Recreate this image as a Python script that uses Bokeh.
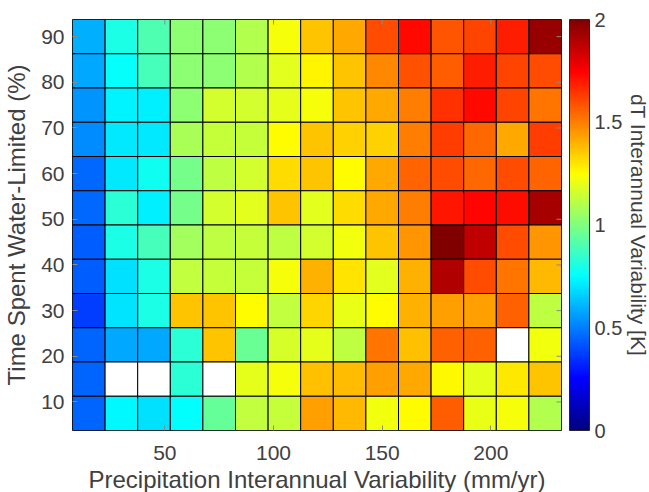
import math
import numpy as np
from bokeh.plotting import figure
from bokeh.models import (LinearColorMapper, ColorBar, FixedTicker, Range1d,
                          ColumnDataSource, Title, CustomJSTickFormatter)
from bokeh.embed import file_html
from bokeh.resources import INLINE

# ---------------- data ----------------
x_centers = [15, 30, 45, 60, 75, 90, 105, 120, 135, 150, 165, 180, 195, 210, 225]
y_centers = [90, 82.5, 75, 67.5, 60, 52.5, 45, 37.5, 30, 22.5, 15, 7.5]  # top -> bottom
nan = float("nan")
dT = [
    [0.60, 0.80, 0.90, 1.03, 1.03, 1.10, 1.23, 1.36, 1.42, 1.60, 1.73, 1.58, 1.61, 1.69, 1.95],
    [0.58, 0.76, 0.89, 1.03, 1.03, 1.10, 1.19, 1.27, 1.36, 1.48, 1.59, 1.57, 1.69, 1.61, 1.60],
    [0.54, 0.73, 0.72, 1.03, 1.16, 1.16, 1.20, 1.23, 1.36, 1.42, 1.50, 1.65, 1.73, 1.61, 1.52],
    [0.53, 0.71, 0.71, 1.08, 1.14, 1.14, 1.25, 1.36, 1.34, 1.34, 1.50, 1.63, 1.54, 1.42, 1.63],
    [0.46, 0.71, 0.78, 0.98, 1.12, 1.16, 1.32, 1.36, 1.25, 1.42, 1.55, 1.60, 1.54, 1.60, 1.55],
    [0.46, 0.83, 0.72, 0.98, 1.16, 1.19, 1.36, 1.19, 1.32, 1.42, 1.50, 1.71, 1.74, 1.72, 1.92],
    [0.43, 0.80, 0.89, 1.07, 1.12, 1.14, 1.12, 1.16, 1.22, 1.36, 1.46, 2.00, 1.87, 1.60, 1.46],
    [0.43, 0.69, 0.80, 1.13, 1.14, 1.14, 1.23, 1.40, 1.30, 1.19, 1.40, 1.90, 1.60, 1.52, 1.39],
    [0.37, 0.70, 0.80, 1.36, 1.36, 1.25, 1.13, 1.33, 1.21, 1.25, 1.40, 1.43, 1.43, 1.56, 1.12],
    [0.45, 0.58, 0.58, 0.83, 1.36, 0.96, 1.17, 1.20, 1.12, 1.52, 1.37, 1.56, 1.56, nan, 1.22],
    [0.45, nan, nan, 0.83, nan, 1.20, 1.23, 1.37, 1.38, 1.43, 1.42, 1.26, 1.20, 1.29, 1.36],
    [0.45, 0.74, 0.69, 0.75, 0.95, 1.13, 1.14, 1.43, 1.39, 1.22, 1.25, 1.57, 1.21, 1.23, 1.10],
]
x_ticks = [50, 100, 150, 200]
y_ticks = [10, 20, 30, 40, 50, 60, 70, 80, 90]
cbar_ticks = [0, 0.5, 1, 1.5, 2]
x_step = 15
y_step = 7.5

# ---------------- jet colormap ----------------
def jet_palette(n=256):
    cols = []
    for i in range(n):
        t = i / (n - 1)
        r = min(max(1.5 - abs(4 * t - 3), 0), 1)
        g = min(max(1.5 - abs(4 * t - 2), 0), 1)
        b = min(max(1.5 - abs(4 * t - 1), 0), 1)
        cols.append("#%02x%02x%02x" % (int(round(r * 255)), int(round(g * 255)), int(round(b * 255))))
    return cols

xs, ys, vs = [], [], []
for yi, row in zip(y_centers, dT):
    for xi, v in zip(x_centers, row):
        xs.append(xi)
        ys.append(yi)
        vs.append(v)
src = ColumnDataSource(dict(x=np.array(xs, dtype=float), y=np.array(ys, dtype=float),
                            v=np.array(vs, dtype=float)))

mapper = LinearColorMapper(palette=jet_palette(), low=0, high=2, nan_color="white")

FONT = "Liberation Sans"
TXT = "#404040"
TICK = "#8a8a8a"

x_lo, x_hi = x_centers[0] - x_step / 2, x_centers[-1] + x_step / 2
y_lo, y_hi = y_centers[-1] - y_step / 2, y_centers[0] + y_step / 2

p = figure(frame_width=489, frame_height=411,
           x_range=Range1d(x_lo, x_hi), y_range=Range1d(y_lo, y_hi),
           output_backend="svg", toolbar_location=None,
           min_border_left=62, min_border_top=19, min_border_right=0, min_border_bottom=0)

p.rect(x="x", y="y", width=x_step, height=y_step, source=src,
       fill_color={"field": "v", "transform": mapper}, line_color="black", line_width=1)

# box ticks on top and right edges (inward), at the axis tick values
p.ray(x=x_ticks, y=[y_hi] * len(x_ticks), length=5, length_units="screen",
      angle=-math.pi / 2, line_color=TICK, line_width=1)
p.ray(x=[x_hi] * len(y_ticks), y=y_ticks, length=5, length_units="screen",
      angle=math.pi, line_color=TICK, line_width=1)

p.grid.visible = False
p.outline_line_color = "#262626"
p.outline_line_width = 1
p.background_fill_color = "white"

for ax in (p.xaxis[0], p.yaxis[0]):
    ax.axis_line_color = None
    ax.major_tick_in = 5
    ax.major_tick_out = 0
    ax.minor_tick_line_color = None
    ax.major_tick_line_color = TICK
    ax.major_label_text_font = FONT
    ax.major_label_text_font_size = "21px"
    ax.major_label_text_color = TXT
    ax.axis_label_text_font = FONT
    ax.axis_label_text_font_size = "24px"
    ax.axis_label_text_font_style = "normal"
    ax.axis_label_text_color = TXT

p.xaxis.ticker = FixedTicker(ticks=x_ticks)
p.yaxis.ticker = FixedTicker(ticks=y_ticks)
p.xaxis.axis_label = "Precipitation Interannual Variability (mm/yr)"
p.yaxis.axis_label = "Time Spent Water-Limited (%)"
p.xaxis.major_label_standoff = 15
p.xaxis.axis_label_standoff = 3
p.yaxis.major_label_standoff = 8
p.yaxis.axis_label_standoff = 8

cb = ColorBar(color_mapper=mapper, ticker=FixedTicker(ticks=cbar_ticks),
              formatter=CustomJSTickFormatter(code="return tick.toString();"),
              width=20, margin=0, padding=0, location=(8, 0),
              major_tick_line_color=None, minor_tick_line_color=None,
              bar_line_color="#262626", bar_line_width=1,
              label_standoff=5,
              major_label_text_font=FONT, major_label_text_font_size="20px",
              major_label_text_color=TXT, background_fill_alpha=0,
              border_line_color=None)
p.add_layout(cb, "right")

ttl = Title(text="dT Interannual Variability [K]", align="center",
            text_font=FONT, text_font_size="21px", text_font_style="normal",
            text_color=TXT, standoff=2)
p.add_layout(ttl, "right")

open("out.html", "w").write(file_html(p, INLINE))
